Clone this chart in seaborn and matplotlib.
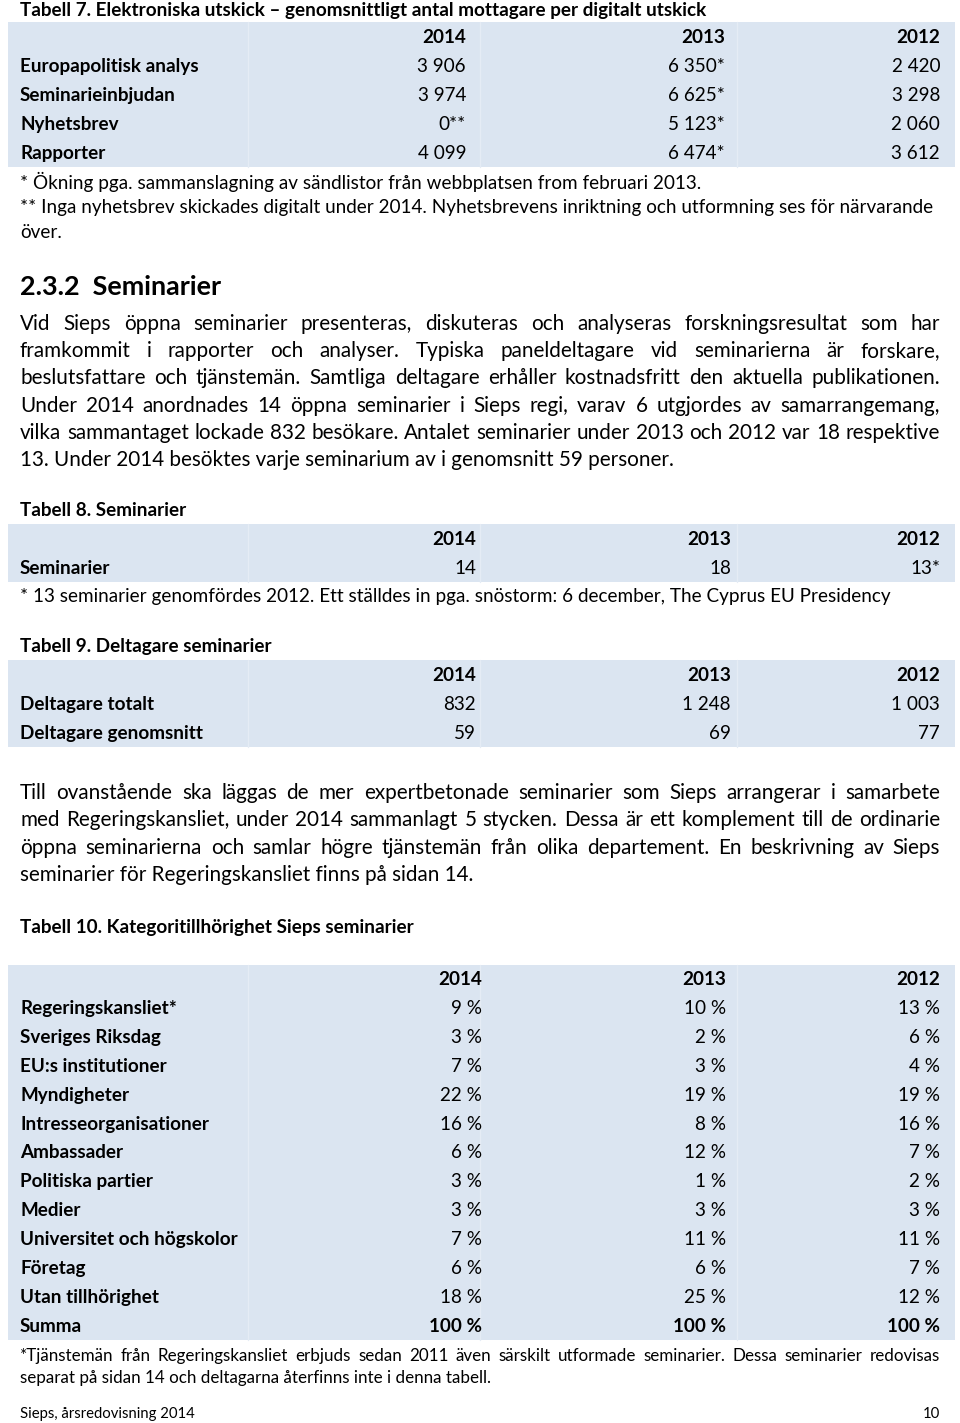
import numpy as np
import pandas as pd
import matplotlib
matplotlib.use('Agg')
import matplotlib.pyplot as plt
import seaborn as sns

# --- data -------------------------------------------------------------
years = ['2014', '2013', '2012']

t7_rows = ['Europapolitisk analys', 'Seminarieinbjudan', 'Nyhetsbrev', 'Rapporter']
t7_2014 = ['3 906', '3 974', '0**', '4 099']
t7_2013 = ['6 350*', '6 625*', '5 123*', '6 474*']
t7_2012 = ['2 420', '3 298', '2 060', '3 612']

t8_rows = ['Seminarier']
t8_2014 = ['14']
t8_2013 = ['18']
t8_2012 = ['13*']

t9_rows = ['Deltagare totalt', 'Deltagare genomsnitt']
t9_2014 = ['832', '59']
t9_2013 = ['1 248', '69']
t9_2012 = ['1 003', '77']

t10_rows = ['Regeringskansliet*', 'Sveriges Riksdag', 'EU:s institutioner', 'Myndigheter',
            'Intresseorganisationer', 'Ambassader', 'Politiska partier', 'Medier',
            'Universitet och högskolor', 'Företag', 'Utan tillhörighet', 'Summa']
t10_2014 = [9, 3, 7, 22, 16, 6, 3, 3, 7, 6, 18, 100]
t10_2013 = [10, 2, 3, 19, 8, 12, 1, 3, 11, 6, 25, 100]
t10_2012 = [13, 6, 4, 19, 16, 7, 2, 3, 11, 7, 12, 100]

para1 = [
    'Vid Sieps öppna seminarier presenteras, diskuteras och analyseras forskningsresultat som har',
    'framkommit i rapporter och analyser. Typiska paneldeltagare vid seminarierna är forskare,',
    'beslutsfattare och tjänstemän. Samtliga deltagare erhåller kostnadsfritt den aktuella publikationen.',
    'Under 2014 anordnades 14 öppna seminarier i Sieps regi, varav 6 utgjordes av samarrangemang,',
    'vilka sammantaget lockade 832 besökare. Antalet seminarier under 2013 och 2012 var 18 respektive',
    '13. Under 2014 besöktes varje seminarium av i genomsnitt 59 personer.',
]
para2 = [
    'Till ovanstående ska läggas de mer expertbetonade seminarier som Sieps arrangerar i samarbete',
    'med Regeringskansliet, under 2014 sammanlagt 5 stycken. Dessa är ett komplement till de ordinarie',
    'öppna seminarierna och samlar högre tjänstemän från olika departement. En beskrivning av Sieps',
    'seminarier för Regeringskansliet finns på sidan 14.',
]
note10 = [
    '*Tjänstemän från Regeringskansliet erbjuds sedan 2011 även särskilt utformade seminarier. Dessa seminarier redovisas',
    'separat på sidan 14 och deltagarna återfinns inte i denna tabell.',
]

# --- style ------------------------------------------------------------
sns.set_theme(style='white')
FONT = ['Lato', 'DejaVu Sans']
plt.rcParams['font.family'] = FONT
BG = '#dbe5f1'

fig = plt.figure(figsize=(9.6, 14.23), dpi=100)
ax = fig.add_axes([0, 0, 1, 1])
ax.set_xlim(0, 960)
ax.set_ylim(1423, 0)
ax.axis('off')
renderer = fig.canvas.get_renderer()


def txt(x, y, s, size=13, weight='normal', ha='left'):
    # y is the visual middle of the line; put the baseline a bit below it
    yb = y + 0.34 * size * 100 / 72
    return ax.text(x, yb, s, fontsize=size, fontweight=weight, ha=ha, va='baseline',
                   color='black', family=FONT)


def fit(s, width, weight='normal'):
    # font size that makes s about `width` px wide (page font is narrow)
    t = txt(0, -100, s, 10, weight)
    w = t.get_window_extent(renderer).width
    t.remove()
    return 10 * width / w


def justify(y, s, size=14, x0=20, x1=940, last=False):
    if last:
        txt(x0, y, s, size)
        return
    words = s.split(' ')
    items = [txt(0, y, w, size) for w in words]
    widths = [t.get_window_extent(renderer).width for t in items]
    gap = (x1 - x0 - sum(widths)) / (len(words) - 1)
    x = x0
    for t, w in zip(items, widths):
        t.set_x(x)
        x += w + gap


def table(top, rows, cols, right, size=13, bold_last=False, row_h=29):
    n = len(rows) + 1
    centers = top + row_h / 2 + np.arange(n) * row_h
    ax.barh(centers, width=947, left=8, height=row_h, color=BG, edgecolor='none')
    for xv in [248, 480, 737]:
        ax.plot([xv, xv], [top, top + n * row_h], color='#e5ecf5', lw=1)
    for j, yr in enumerate(years):
        txt(right[j], centers[0], yr, size, 'bold', 'right')
    for i, r in enumerate(rows):
        y = centers[i + 1]
        txt(20, y, r, size, 'bold')
        w = 'bold' if (bold_last and i == len(rows) - 1) else 'normal'
        for j, col in enumerate(cols):
            txt(right[j], y, col[i], size, w, 'right')


# sizes
s_t7 = fit('Europapolitisk analys', 178, 'bold')
s_tab = fit('Deltagare genomsnitt', 182, 'bold')
s_para = fit(para1[-1], 654)
s_note = fit('* Ökning pga. sammanslagning av sändlistor från webbplatsen from februari 2013.', 677)
s_title = fit('Tabell 10. Kategoritillhörighet Sieps seminarier', 393, 'bold')
s_title7 = fit('Tabell 7. Elektroniska utskick – genomsnittligt antal mottagare per digitalt utskick', 686, 'bold')
s_head = fit('2.3.2  Seminarier', 202, 'bold')
s_n10 = fit(note10[1], 472)
s_foot = fit('Sieps, årsredovisning 2014', 175)

# Tabell 7
txt(20, 10, 'Tabell 7. Elektroniska utskick – genomsnittligt antal mottagare per digitalt utskick', s_title7, 'bold')
table(22, t7_rows, [t7_2014, t7_2013, t7_2012], [466, 725, 940], s_t7)
txt(20, 183, '* Ökning pga. sammanslagning av sändlistor från webbplatsen from februari 2013.', s_note)
txt(20, 207, '** Inga nyhetsbrev skickades digitalt under 2014. Nyhetsbrevens inriktning och utformning ses för närvarande', s_note)
txt(20, 232, 'över.', s_note)

# 2.3.2 rubrik och text
txt(20, 286, '2.3.2  Seminarier', s_head, 'bold')
for k, line in enumerate(para1):
    justify(323 + k * 27.2, line, s_para, last=(k == len(para1) - 1))

# Tabell 8
txt(20, 510, 'Tabell 8. Seminarier', s_title, 'bold')
table(524, t8_rows, [t8_2014, t8_2013, t8_2012], [476, 731, 940], s_tab)
txt(20, 596, '* 13 seminarier genomfördes 2012. Ett ställdes in pga. snöstorm: 6 december, The Cyprus EU Presidency', s_note)

# Tabell 9
txt(20, 646, 'Tabell 9. Deltagare seminarier', s_title, 'bold')
table(660, t9_rows, [t9_2014, t9_2013, t9_2012], [476, 731, 940], s_tab)

for k, line in enumerate(para2):
    justify(792 + k * 27.3, line, s_para, last=(k == len(para2) - 1))

# Tabell 10
txt(20, 927, 'Tabell 10. Kategoritillhörighet Sieps seminarier', s_title, 'bold')
pct = lambda vals: [f'{v} %' for v in vals]
table(964.5, t10_rows, [pct(t10_2014), pct(t10_2013), pct(t10_2012)], [482, 726, 940], s_tab,
      bold_last=True, row_h=28.85)
justify(1355, note10[0], s_n10)
justify(1377, note10[1], s_n10, last=True)

# sidfot
txt(20, 1413, 'Sieps, årsredovisning 2014', s_foot)
txt(940, 1413, '10', s_foot, ha='right')

plt.savefig('out.png', dpi=100)
plt.close()
